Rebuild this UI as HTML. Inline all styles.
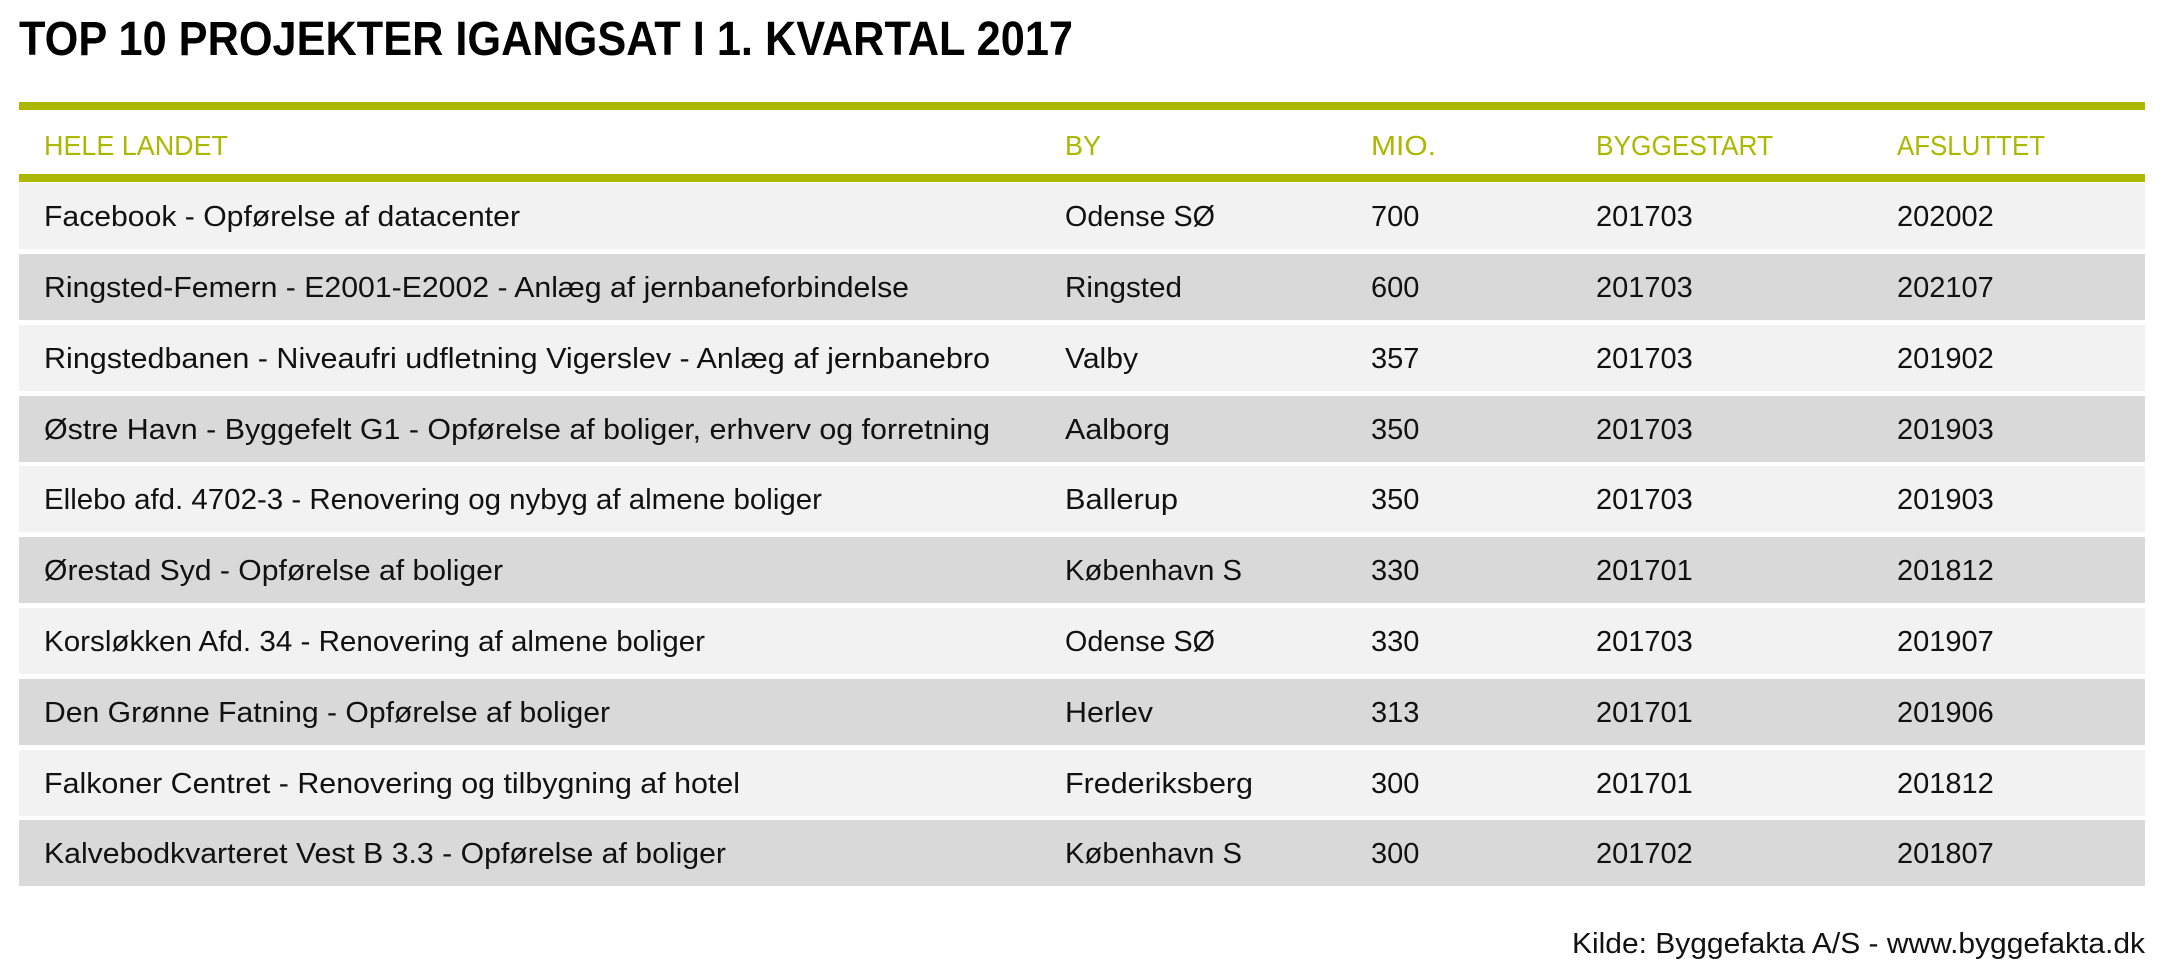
<!DOCTYPE html>
<html><head><meta charset="utf-8"><style>
html,body{margin:0;padding:0;background:#fff;}
svg{display:block;}
text{font-family:"Liberation Sans",sans-serif;}
.t{font-size:29px;fill:#111;}
.h{font-size:28px;fill:#acb700;}
</style></head><body>
<svg width="2165" height="979" viewBox="0 0 2165 979" xmlns="http://www.w3.org/2000/svg">
<rect width="2165" height="979" fill="#fff"/>
<text x="19" y="55" font-size="48" font-weight="bold" fill="#000" textLength="1054" lengthAdjust="spacingAndGlyphs">TOP 10 PROJEKTER IGANGSAT I 1. KVARTAL 2017</text>
<rect x="19" y="102" width="2126" height="8" fill="#acb700"/>
<rect x="19" y="174" width="2126" height="8" fill="#acb700"/>
<g class="h">
<text x="44" y="155" textLength="184" lengthAdjust="spacingAndGlyphs">HELE LANDET</text>
<text x="1065" y="155" textLength="36" lengthAdjust="spacingAndGlyphs">BY</text>
<text x="1371" y="155" textLength="65" lengthAdjust="spacingAndGlyphs">MIO.</text>
<text x="1596" y="155" textLength="177" lengthAdjust="spacingAndGlyphs">BYGGESTART</text>
<text x="1897" y="155" textLength="148" lengthAdjust="spacingAndGlyphs">AFSLUTTET</text>
</g>
<g>
<rect x="19" y="183" width="2126" height="66" fill="#f2f2f2"/>
<rect x="19" y="254" width="2126" height="66" fill="#d9d9d9"/>
<rect x="19" y="325" width="2126" height="66" fill="#f2f2f2"/>
<rect x="19" y="396" width="2126" height="66" fill="#d9d9d9"/>
<rect x="19" y="466" width="2126" height="66" fill="#f2f2f2"/>
<rect x="19" y="537" width="2126" height="66" fill="#d9d9d9"/>
<rect x="19" y="608" width="2126" height="66" fill="#f2f2f2"/>
<rect x="19" y="679" width="2126" height="66" fill="#d9d9d9"/>
<rect x="19" y="750" width="2126" height="66" fill="#f2f2f2"/>
<rect x="19" y="820" width="2126" height="66" fill="#d9d9d9"/>
</g>
<g class="t">
<text x="44" y="226" textLength="476" lengthAdjust="spacingAndGlyphs">Facebook - Opførelse af datacenter</text>
<text x="1065" y="226" textLength="150" lengthAdjust="spacingAndGlyphs">Odense SØ</text>
<text x="1371" y="226">700</text><text x="1596" y="226">201703</text><text x="1897" y="226">202002</text>

<text x="44" y="297" textLength="865" lengthAdjust="spacingAndGlyphs">Ringsted-Femern  - E2001-E2002 - Anlæg af jernbaneforbindelse</text>
<text x="1065" y="297" textLength="117" lengthAdjust="spacingAndGlyphs">Ringsted</text>
<text x="1371" y="297">600</text><text x="1596" y="297">201703</text><text x="1897" y="297">202107</text>

<text x="44" y="368" textLength="946" lengthAdjust="spacingAndGlyphs">Ringstedbanen - Niveaufri udfletning Vigerslev - Anlæg af jernbanebro</text>
<text x="1065" y="368" textLength="73" lengthAdjust="spacingAndGlyphs">Valby</text>
<text x="1371" y="368">357</text><text x="1596" y="368">201703</text><text x="1897" y="368">201902</text>

<text x="44" y="439" textLength="946" lengthAdjust="spacingAndGlyphs">Østre Havn - Byggefelt G1 - Opførelse af boliger, erhverv og forretning</text>
<text x="1065" y="439" textLength="105" lengthAdjust="spacingAndGlyphs">Aalborg</text>
<text x="1371" y="439">350</text><text x="1596" y="439">201703</text><text x="1897" y="439">201903</text>

<text x="44" y="509" textLength="778" lengthAdjust="spacingAndGlyphs">Ellebo afd. 4702-3 - Renovering og nybyg af almene boliger</text>
<text x="1065" y="509" textLength="113" lengthAdjust="spacingAndGlyphs">Ballerup</text>
<text x="1371" y="509">350</text><text x="1596" y="509">201703</text><text x="1897" y="509">201903</text>

<text x="44" y="580" textLength="459" lengthAdjust="spacingAndGlyphs">Ørestad Syd - Opførelse af boliger</text>
<text x="1065" y="580" textLength="177" lengthAdjust="spacingAndGlyphs">København S</text>
<text x="1371" y="580">330</text><text x="1596" y="580">201701</text><text x="1897" y="580">201812</text>

<text x="44" y="651" textLength="661" lengthAdjust="spacingAndGlyphs">Korsløkken Afd. 34 - Renovering af almene boliger</text>
<text x="1065" y="651" textLength="150" lengthAdjust="spacingAndGlyphs">Odense SØ</text>
<text x="1371" y="651">330</text><text x="1596" y="651">201703</text><text x="1897" y="651">201907</text>

<text x="44" y="722" textLength="566" lengthAdjust="spacingAndGlyphs">Den Grønne Fatning - Opførelse af boliger</text>
<text x="1065" y="722" textLength="88" lengthAdjust="spacingAndGlyphs">Herlev</text>
<text x="1371" y="722">313</text><text x="1596" y="722">201701</text><text x="1897" y="722">201906</text>

<text x="44" y="793" textLength="696" lengthAdjust="spacingAndGlyphs">Falkoner Centret - Renovering og tilbygning af hotel</text>
<text x="1065" y="793" textLength="188" lengthAdjust="spacingAndGlyphs">Frederiksberg</text>
<text x="1371" y="793">300</text><text x="1596" y="793">201701</text><text x="1897" y="793">201812</text>

<text x="44" y="863" textLength="682" lengthAdjust="spacingAndGlyphs">Kalvebodkvarteret Vest B 3.3 - Opførelse af boliger</text>
<text x="1065" y="863" textLength="177" lengthAdjust="spacingAndGlyphs">København S</text>
<text x="1371" y="863">300</text><text x="1596" y="863">201702</text><text x="1897" y="863">201807</text>

<text x="1572" y="953" textLength="573" lengthAdjust="spacingAndGlyphs">Kilde: Byggefakta A/S - www.byggefakta.dk</text>
</g>
</svg>
</body></html>
